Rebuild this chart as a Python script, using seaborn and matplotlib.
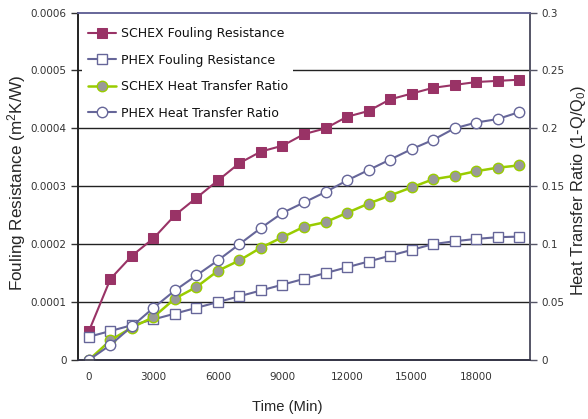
import matplotlib
matplotlib.use("Agg")
import matplotlib.pyplot as plt
import seaborn as sns
import pandas as pd
from matplotlib.ticker import FixedLocator

# time axis (minutes)
time_min = [0, 1000, 2000, 3000, 4000, 5000, 6000, 7000, 8000, 9000, 10000,
            11000, 12000, 13000, 14000, 15000, 16000, 17000, 18000, 19000, 20000]

# fouling resistance (m2K/W), left axis
schex_fouling = [0.00005, 0.00014, 0.00018, 0.00021, 0.00025, 0.00028, 0.00031,
                 0.00034, 0.00036, 0.00037, 0.00039, 0.00040, 0.00042, 0.00043,
                 0.00045, 0.00046, 0.00047, 0.000475, 0.00048, 0.000482, 0.000484]
phex_fouling = [0.00004, 0.00005, 0.00006, 0.00007, 0.00008, 0.00009, 0.00010,
                0.00011, 0.00012, 0.00013, 0.00014, 0.00015, 0.00016, 0.00017,
                0.00018, 0.00019, 0.00020, 0.000205, 0.000209, 0.000212, 0.000213]

# heat transfer ratio (1-Q/Q0), right axis
schex_ratio = [0.0, 0.017, 0.028, 0.037, 0.053, 0.063, 0.077, 0.086, 0.097, 0.106,
               0.115, 0.119, 0.127, 0.135, 0.142, 0.149, 0.156, 0.159, 0.163, 0.166, 0.168]
phex_ratio = [0.0, 0.013, 0.029, 0.045, 0.060, 0.073, 0.086, 0.100, 0.114, 0.127,
              0.136, 0.145, 0.155, 0.164, 0.173, 0.182, 0.190, 0.200, 0.205, 0.208, 0.214]

x_labels = [0, 3000, 6000, 9000, 12000, 15000, 18000]

df = pd.DataFrame({
    "time": time_min,
    "schex_fouling": schex_fouling,
    "phex_fouling": phex_fouling,
    "schex_ratio": schex_ratio,
    "phex_ratio": phex_ratio,
})

sns.set_style("white")
plt.rcParams["font.family"] = ["DejaVu Sans"]

fig, ax = plt.subplots(figsize=(5.88, 4.19), dpi=100)
fig.subplots_adjust(left=0.133, right=0.901, top=0.970, bottom=0.141)
ax2 = ax.twinx()

plum = "#993366"
slate = "#666699"
lime = "#99CC00"

sns.lineplot(data=df, x="time", y="schex_fouling", ax=ax, color=plum, lw=1.5,
             marker="s", markersize=7, markerfacecolor=plum, markeredgecolor=plum,
             label="SCHEX Fouling Resistance", legend=False)
sns.lineplot(data=df, x="time", y="phex_fouling", ax=ax, color=slate, lw=1.5,
             marker="s", markersize=7, markerfacecolor="white", markeredgecolor=slate,
             markeredgewidth=1.0, label="PHEX Fouling Resistance", legend=False)
sns.lineplot(data=df, x="time", y="schex_ratio", ax=ax2, color=lime, lw=1.8,
             marker="o", markersize=7.5, markerfacecolor="#999999", markeredgecolor=lime,
             markeredgewidth=1.0, label="SCHEX Heat Transfer Ratio", legend=False)
sns.lineplot(data=df, x="time", y="phex_ratio", ax=ax2, color=slate, lw=1.5,
             marker="o", markersize=7.5, markerfacecolor="white", markeredgecolor=slate,
             markeredgewidth=1.0, label="PHEX Heat Transfer Ratio", legend=False)

ax.set_xlim(-500, 20500)
ax.set_ylim(0, 0.0006)
ax2.set_ylim(0, 0.3)

# horizontal grid lines
for yv in [0.0001, 0.0002, 0.0003, 0.0004, 0.0005]:
    ax.axhline(yv, color="#222222", lw=1.0, zorder=0)

ax.set_yticks([0, 0.0001, 0.0002, 0.0003, 0.0004, 0.0005, 0.0006])
ax.set_yticklabels(["0", "0.0001", "0.0002", "0.0003", "0.0004", "0.0005", "0.0006"])
ax2.set_yticks([0, 0.05, 0.1, 0.15, 0.2, 0.25, 0.3])
ax2.set_yticklabels(["0", "0.05", "0.1", "0.15", "0.2", "0.25", "0.3"])

ax.set_xticks(x_labels)
ax.set_xticklabels([str(v) for v in x_labels])
ax.xaxis.set_minor_locator(FixedLocator([v - 500 for v in time_min] + [20500]))
ax.tick_params(axis="x", which="major", length=0, pad=9, labelsize=7.5, labelcolor="#333333")
ax.tick_params(axis="x", which="minor", length=4, width=1, direction="out", color="#333333")
ax.tick_params(axis="y", length=5, width=1, direction="out", labelsize=7.5,
               labelcolor="#333333", color="#333333", left=True)
ax2.tick_params(axis="y", length=5, width=1, direction="out", labelsize=7.5,
                labelcolor="#333333", color="#555566", right=True)

lab_font = ["Liberation Sans", "DejaVu Sans"]
ax.set_xlabel("Time (Min)", fontsize=10.6, family=lab_font)
ax.set_ylabel("Fouling Resistance (m$\\mathregular{^2}$K/W)", fontsize=12.3, family=lab_font)
ax2.set_ylabel("Heat Transfer Ratio (1-Q/Q$\\mathregular{_0}$)", fontsize=11.8, family=lab_font)
for lab in (ax.xaxis.label, ax.yaxis.label, ax2.yaxis.label):
    lab.set_va("center")
    lab.set_ha("center")
ax.xaxis.set_label_coords(0.463, -0.135)
ax.yaxis.set_label_coords(-0.137, 0.51)
ax2.yaxis.set_label_coords(1.108, 0.488)
ax2.yaxis.label.set_rotation(90)

for a in (ax, ax2):
    a.spines["top"].set_color(slate)
    a.spines["left"].set_color("#222222")
    a.spines["bottom"].set_color("#333344")
    a.spines["right"].set_color("#555566")
    for s in a.spines.values():
        s.set_linewidth(1.2)

h1, l1 = ax.get_legend_handles_labels()
h2, l2 = ax2.get_legend_handles_labels()
leg = ax2.legend(h1 + h2, l1 + l2, loc="upper left", bbox_to_anchor=(0.0, 0.985),
                 fontsize=9, frameon=True, facecolor="white", edgecolor="none",
                 framealpha=1.0, fancybox=False, labelspacing=1.08,
                 handlelength=2.3, handletextpad=0.35, borderpad=0.45, borderaxespad=0.3)
for t in leg.get_texts():
    t.set_color("#111111")

fig.savefig("out.png", dpi=100)
